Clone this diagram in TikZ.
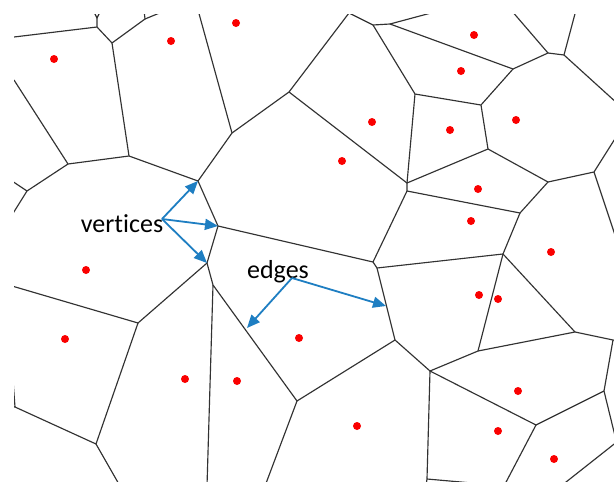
\documentclass[tikz,border=0pt]{standalone}
\usepackage{fontspec}
\setmainfont{Carlito}[RawFeature=-liga]
\usetikzlibrary{arrows.meta}
\definecolor{edgegray}{RGB}{50,50,50}
\definecolor{arrowblue}{RGB}{30,126,194}
\definecolor{dotred}{RGB}{250,0,0}
\tikzset{
  vedge/.style={draw=edgegray,line width=1.15pt,line join=round},
  site/.style={circle,fill=dotred,inner sep=0pt,minimum size=8pt},
  pointer/.style={draw=arrowblue,line width=1.8pt,-{Triangle[length=13pt,width=11pt]}},
  lbl/.style={font=\fontsize{26}{30}\selectfont,inner sep=0pt,anchor=base}
}
\begin{document}
\begin{tikzpicture}[x=1pt,y=-1pt]
\useasboundingbox (0,0) rectangle (614,482);
\fill[white] (0,0) rectangle (614,482);
\begin{scope}
\clip (14,14) rectangle (614,482);
% vertices
\coordinate (a1) at (97,18);
\coordinate (a2) at (97,27);
\coordinate (a3) at (112,43);
\coordinate (a4) at (145,19);
\coordinate (a5) at (129,156);
\coordinate (a6) at (68,164);
\coordinate (p) at (27,191);
\coordinate (f) at (232,133);
\coordinate (g) at (289,92);
\coordinate (h0) at (349,13);
\coordinate (h) at (373,25);
\coordinate (i) at (390,24);
\coordinate (j) at (513,69);
\coordinate (k) at (548,53);
\coordinate (l) at (564,55);
\coordinate (m) at (481,105);
\coordinate (n) at (415,94);
\coordinate (o) at (488,149);
\coordinate (bb) at (548,182);
\coordinate (cc) at (594,172);
\coordinate (v1) at (407,183);
\coordinate (v2) at (407,191);
\coordinate (aa) at (520,213);
\coordinate (z) at (503,254);
\coordinate (x1) at (373,262);
\coordinate (x2) at (377,268);
\coordinate (w) at (395,340);
\coordinate (v) at (297,401);
\coordinate (dd) at (478,351);
\coordinate (ee) at (430,371);
\coordinate (gg) at (427,479);
\coordinate (hh) at (536,425);
\coordinate (ff) at (575,332);
\coordinate (ff2) at (613,340);
\coordinate (ii) at (604,391);
\coordinate (q) at (198,181);
\coordinate (r1) at (218,226);
\coordinate (r2) at (207,263);
\coordinate (s) at (213,285);
\coordinate (u) at (138,323);
\coordinate (t) at (96,444);
\coordinate (lb) at (15,407);
% border ends
\coordinate (e1) at (93,10);
\coordinate (e2) at (101,10);
\coordinate (e3) at (14,37);
\coordinate (e4) at (144,10);
\coordinate (e5) at (162,12);
\coordinate (e6) at (14,80);
\coordinate (e7) at (12,181);
\coordinate (e8) at (12,215);
\coordinate (e9) at (198,10);
\coordinate (e10) at (431,13);
\coordinate (e11) at (511,10);
\coordinate (e12) at (576,10);
\coordinate (e13) at (618,104);
\coordinate (e14) at (618,134);
\coordinate (e15) at (618,244);
\coordinate (e16) at (12,286);
\coordinate (e17) at (12,406);
\coordinate (e18) at (13,380);
\coordinate (e19) at (120,486);
\coordinate (e20) at (207,486);
\coordinate (e21) at (265,486);
\coordinate (e22) at (426,486);
\coordinate (e23) at (472,483);
\coordinate (e24) at (504,486);
\coordinate (e25) at (618,341);
\coordinate (e26) at (616,440);
\coordinate (e27) at (618,441);
\coordinate (e28) at (561,486);
% edges
\draw[vedge] (e1) -- (a1) -- (e2);
\draw[vedge] (a1) -- (a2) -- (e3);
\draw[vedge] (a2) -- (a3) -- (a4) -- (e4);
\draw[vedge] (a4) -- (e5);
\draw[vedge] (a3) -- (a5) -- (a6) -- (e6);
\draw[vedge] (a6) -- (p) -- (e7);
\draw[vedge] (p) -- (e8);
\draw[vedge] (a5) -- (q) -- (f) -- (e9);
\draw[vedge] (f) -- (g) -- (h0) -- (h) -- (i) -- (e10);
\draw[vedge] (i) -- (j) -- (k) -- (e11);
\draw[vedge] (k) -- (l) -- (e12);
\draw[vedge] (l) -- (e13);
\draw[vedge] (j) -- (m) -- (n) -- (h);
\draw[vedge] (m) -- (o) -- (v1) -- (n);
\draw[vedge] (g) -- (v1) -- (v2) -- (aa) -- (bb) -- (o);
\draw[vedge] (bb) -- (cc) -- (e14);
\draw[vedge] (cc) -- (e15);
\draw[vedge] (v2) -- (x1) -- (x2) -- (z) -- (aa);
\draw[vedge] (q) -- (r1) -- (x1);
\draw[vedge] (r1) -- (r2) -- (s) -- (v) -- (w) -- (x2);
\draw[vedge] (r2) -- (u) -- (e16);
\draw[vedge] (u) -- (t) -- (lb) -- (e18);
\draw[vedge] (lb) -- (e17);
\draw[vedge] (t) -- (e19);
\draw[vedge] (s) -- (e20);
\draw[vedge] (v) -- (e21);
\draw[vedge] (w) -- (ee) -- (dd) -- (z);
\draw[vedge] (dd) -- (ff) -- (z);
\draw[vedge] (ff) -- (ff2) -- (e25);
\draw[vedge] (ff2) -- (ii) -- (e26);
\draw[vedge] (ee) -- (gg) -- (e22);
\draw[vedge] (gg) -- (e23);
\draw[vedge] (ee) -- (hh) -- (ii);
\draw[vedge] (hh) -- (e24);
\draw[vedge] (e27) -- (e28);
\end{scope}
% sites
\foreach \px/\py [count=\c] in {54/59,171/41,236/23,372/122,342/161,474/35,461/71,516/120,450/130,478/189,471/221,551/252,479/295,498/299,86/270,65/339,185/379,299/338,237/381,357/426,518/391,498/431,554/459}
  \node[site] (site\c) at (\px,\py) {};
% labels
\node[lbl] (vlabel) at (122,232) {vertices};
\node[lbl] (elabel) at (278,278) {edges};
\coordinate (vstart) at (162,219);
\coordinate (estart) at (292,278);
\draw[pointer] (vstart) -- (q);
\draw[pointer] (vstart) -- (r1);
\draw[pointer] (vstart) -- (r2);
\coordinate (etarget1) at (247,328);
\coordinate (etarget2) at (386,306);
\draw[pointer] (estart) -- (etarget1);
\draw[pointer] (estart) -- (etarget2);
\end{tikzpicture}
\end{document}
